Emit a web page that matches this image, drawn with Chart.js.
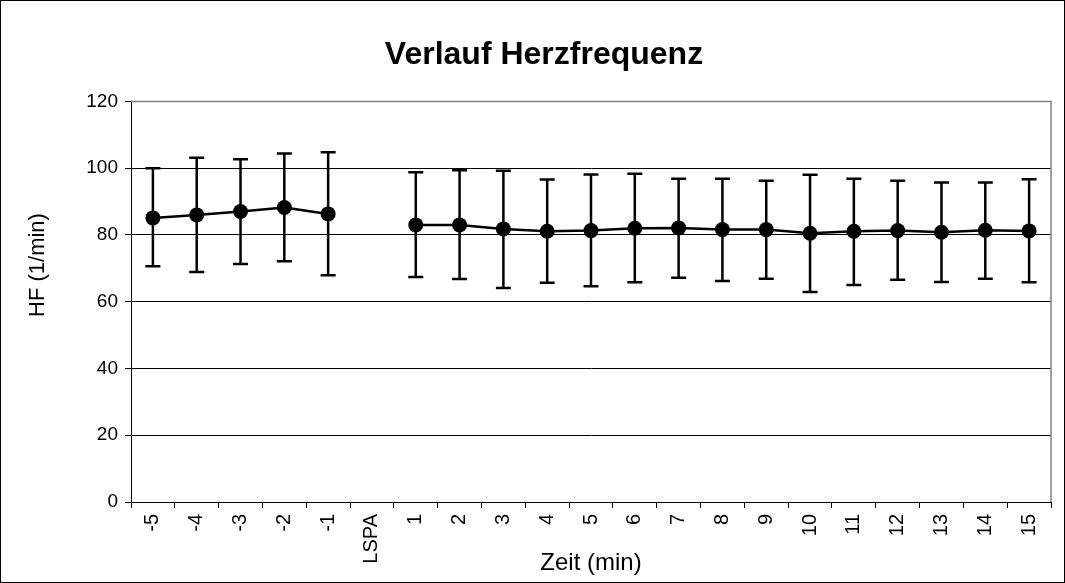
<!DOCTYPE html>
<html>
<head>
<meta charset="utf-8">
<script src="https://cdn.jsdelivr.net/npm/chart.js@4/dist/chart.umd.min.js"></script>
<style>
  html, body { margin: 0; padding: 0; background: #fff; }
  #wrap { width: 1065px; height: 583px; box-sizing: border-box; border: 1px solid #000; }
  canvas { display: block; }
</style>
</head>
<body>
<div id="wrap"><canvas id="hf-chart" width="1063" height="581"></canvas></div>
<script>
// Verlauf Herzfrequenz – mean with error bars

const labels = ["-5", "-4", "-3", "-2", "-1", "LSPA", "1", "2", "3", "4", "5", "6", "7", "8", "9", "10", "11", "12", "13", "14", "15"];
const hfMean  = [85.1, 86.0, 87.0, 88.2, 86.3, null, 83.0, 83.0, 81.8, 81.1, 81.3, 82.0, 82.1, 81.6, 81.6, 80.5, 81.1, 81.3, 80.8, 81.4, 81.2];
const hfUpper = [100.0, 103.1, 102.7, 104.4, 104.8, null, 98.8, 99.4, 99.2, 96.6, 98.1, 98.3, 96.8, 96.8, 96.2, 98.0, 96.8, 96.2, 95.7, 95.7, 96.7];
const hfLower = [70.6, 68.9, 71.3, 72.1, 67.9, null, 67.4, 66.8, 64.1, 65.7, 64.6, 65.8, 67.2, 66.2, 66.9, 62.9, 65.0, 66.6, 65.9, 66.9, 65.8];

const FONT = "'Liberation Sans', Arial, sans-serif";

// draw the whiskers behind the points
const errorBars = {
  id: "errorBars",
  beforeDatasetsDraw(chart) {
    const { ctx, scales: { x, y } } = chart;
    ctx.save();
    ctx.strokeStyle = "#000";
    ctx.lineWidth = 2.5;
    labels.forEach((lab, i) => {
      if (hfUpper[i] == null) return;
      const px = x.getPixelForValue(i);
      const top = y.getPixelForValue(hfUpper[i]);
      const bot = y.getPixelForValue(hfLower[i]);
      ctx.beginPath();
      ctx.moveTo(px, top); ctx.lineTo(px, bot);
      ctx.moveTo(px - 7.5, top); ctx.lineTo(px + 7.5, top);
      ctx.moveTo(px - 7.5, bot); ctx.lineTo(px + 7.5, bot);
      ctx.stroke();
    });
    ctx.restore();
  },
  afterDraw(chart) {
    const { ctx, chartArea: a } = chart;
    ctx.save();
    ctx.strokeStyle = "#808080";
    ctx.lineWidth = 1.5;
    ctx.beginPath();
    ctx.moveTo(a.left, a.top);
    ctx.lineTo(a.right, a.top);
    ctx.lineTo(a.right, a.bottom);
    ctx.stroke();
    ctx.restore();
  }
};

// leading no-break spaces push the axis title a bit upwards, as in the original
const yTitle = "\u00a0".repeat(12) + "HF (1/min)";

const ctx = document.getElementById("hf-chart").getContext("2d");
new Chart(ctx, {
  type: "line",
  data: {
    labels: labels,
    datasets: [{
      label: "HF",
      data: hfMean,
      borderColor: "#000",
      backgroundColor: "#000",
      borderWidth: 2.5,
      pointRadius: 7.5,
      pointHoverRadius: 7.5,
      pointBackgroundColor: "#000",
      pointBorderWidth: 0,
      spanGaps: false,
      tension: 0
    }]
  },
  options: {
    responsive: false,
    animation: false,
    layout: { padding: { left: 36, right: 13, top: 0, bottom: 0 } },
    plugins: {
      legend: { display: false },
      tooltip: { enabled: false },
      title: {
        display: true,
        text: "Verlauf Herzfrequenz",
        color: "#000",
        font: { family: FONT, size: 32, weight: "bold" },
        padding: { top: 35, bottom: 27 }
      }
    },
    scales: {
      x: {
        type: "category",
        offset: true,
        afterFit: s => { s.height = 80; },
        grid: {
          offset: true,
          drawOnChartArea: false,
          drawTicks: true,
          tickLength: 6,
          tickColor: "#000"
        },
        border: { color: "#000", width: 1 },
        ticks: {
          color: "#000",
          font: { family: FONT, size: 20 },
          minRotation: 90,
          maxRotation: 90,
          autoSkip: false,
          padding: 6
        },
        title: {
          display: true,
          text: "Zeit (min)",
          color: "#000",
          font: { family: FONT, size: 24 },
          padding: { top: 0, bottom: 4 }
        }
      },
      y: {
        min: 0,
        max: 120,
        afterFit: s => { s.width = 94; },
        ticks: {
          stepSize: 20,
          color: "#000",
          font: { family: FONT, size: 19 },
          padding: 7
        },
        grid: {
          color: c => (c.tick.value === 120 ? "#808080" : "#000"),
          lineWidth: 1,
          tickLength: 6,
          tickColor: "#000"
        },
        border: { color: "#000", width: 1 },
        title: {
          display: true,
          text: yTitle,
          color: "#000",
          font: { family: FONT, size: 22 },
          padding: { top: -12, bottom: 0 }
        }
      }
    }
  },
  plugins: [errorBars]
});
</script>
</body>
</html>
